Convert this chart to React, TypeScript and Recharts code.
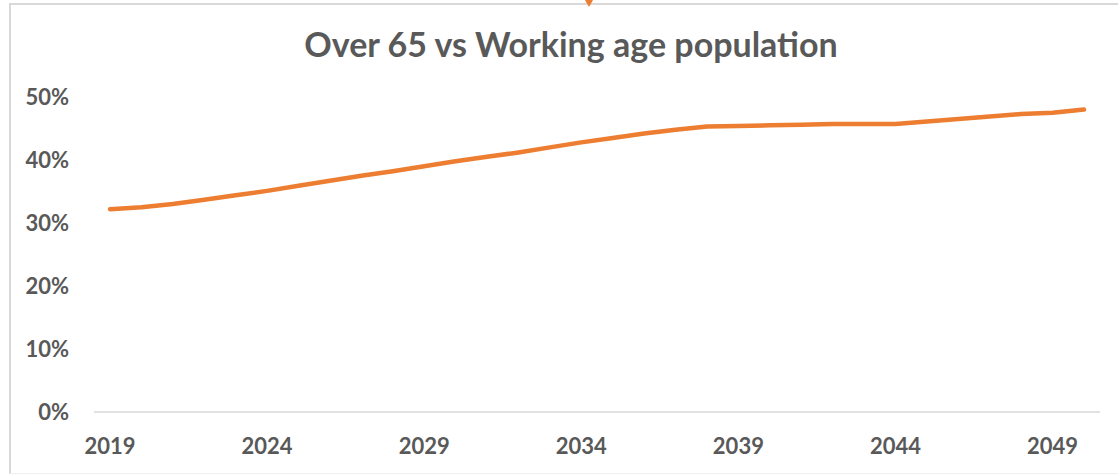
import { LineChart, Line, XAxis, YAxis } from 'recharts';

const years = [
  '2019', '2020', '2021', '2022', '2023', '2024', '2025', '2026',
  '2027', '2028', '2029', '2030', '2031', '2032', '2033', '2034',
  '2035', '2036', '2037', '2038', '2039', '2040', '2041', '2042',
  '2043', '2044', '2045', '2046', '2047', '2048', '2049', '2050',
];

// share of over-65s relative to working age population
const ratio = [
  0.322, 0.325, 0.330, 0.337, 0.344, 0.351, 0.359, 0.367,
  0.375, 0.382, 0.390, 0.398, 0.405, 0.412, 0.420, 0.428,
  0.435, 0.442, 0.448, 0.453, 0.454, 0.455, 0.456, 0.457,
  0.457, 0.457, 0.461, 0.465, 0.469, 0.473, 0.475, 0.480,
];

const yTicks = [0, 0.1, 0.2, 0.3, 0.4, 0.5];
const xTicks = ['2019', '2024', '2029', '2034', '2039', '2044', '2049'];

const data = years.map((year, i) => ({ year, value: ratio[i] }));

const TEXT = '#595959';
const FONT = 'Lato, "Open Sans", sans-serif';

export default function App() {
  return (
    <div style={{ position: 'absolute', left: 0, top: 0, width: 1118, height: 474, background: 'white', overflow: 'hidden' }}>
      <div
        style={{
          position: 'absolute', left: 9, top: 3, width: 1140, height: 468,
          borderTop: '2px solid #d9d9d9', borderLeft: '2px solid #d9d9d9',
          borderBottom: '1px solid #f0f0f0',
        }}
      />
      <div
        style={{
          position: 'absolute', left: 585, top: 0, width: 0, height: 0,
          borderLeft: '4px solid transparent', borderRight: '4px solid transparent',
          borderTop: '7px solid #ED7D31',
        }}
      />
      <div
        style={{
          position: 'absolute', left: 0, top: 23, width: 1142, textAlign: 'center',
          fontFamily: FONT, fontWeight: 700, fontSize: 34, lineHeight: '42px', color: TEXT,
        }}
      >
        Over 65 vs Working age population
      </div>
      <div style={{ position: 'absolute', left: 0, top: 0 }}>
        <LineChart width={1118} height={474} data={data} margin={{ top: 97, right: 18, bottom: 22, left: 0 }}>
          <XAxis
            dataKey="year"
            ticks={xTicks}
            interval={0}
            height={40}
            padding={{ left: 16, right: 16 }}
            tickLine={false}
            tickMargin={20}
            stroke="#d9d9d9"
            strokeWidth={1.5}
            tick={{ fill: TEXT, fontSize: 22, fontWeight: 700, fontFamily: FONT }}
          />
          <YAxis
            domain={[0, 0.5]}
            ticks={yTicks}
            width={94}
            axisLine={false}
            tickLine={false}
            tickMargin={19}
            tickFormatter={(v: number) => `${Math.round(v * 100)}%`}
            tick={{ fill: TEXT, fontSize: 22, fontWeight: 700, fontFamily: FONT }}
          />
          <Line
            type="linear"
            dataKey="value"
            stroke="#ED7D31"
            strokeWidth={4.5}
            strokeLinecap="round"
            strokeLinejoin="round"
            dot={false}
            isAnimationActive={false}
          />
        </LineChart>
      </div>
    </div>
  );
}
